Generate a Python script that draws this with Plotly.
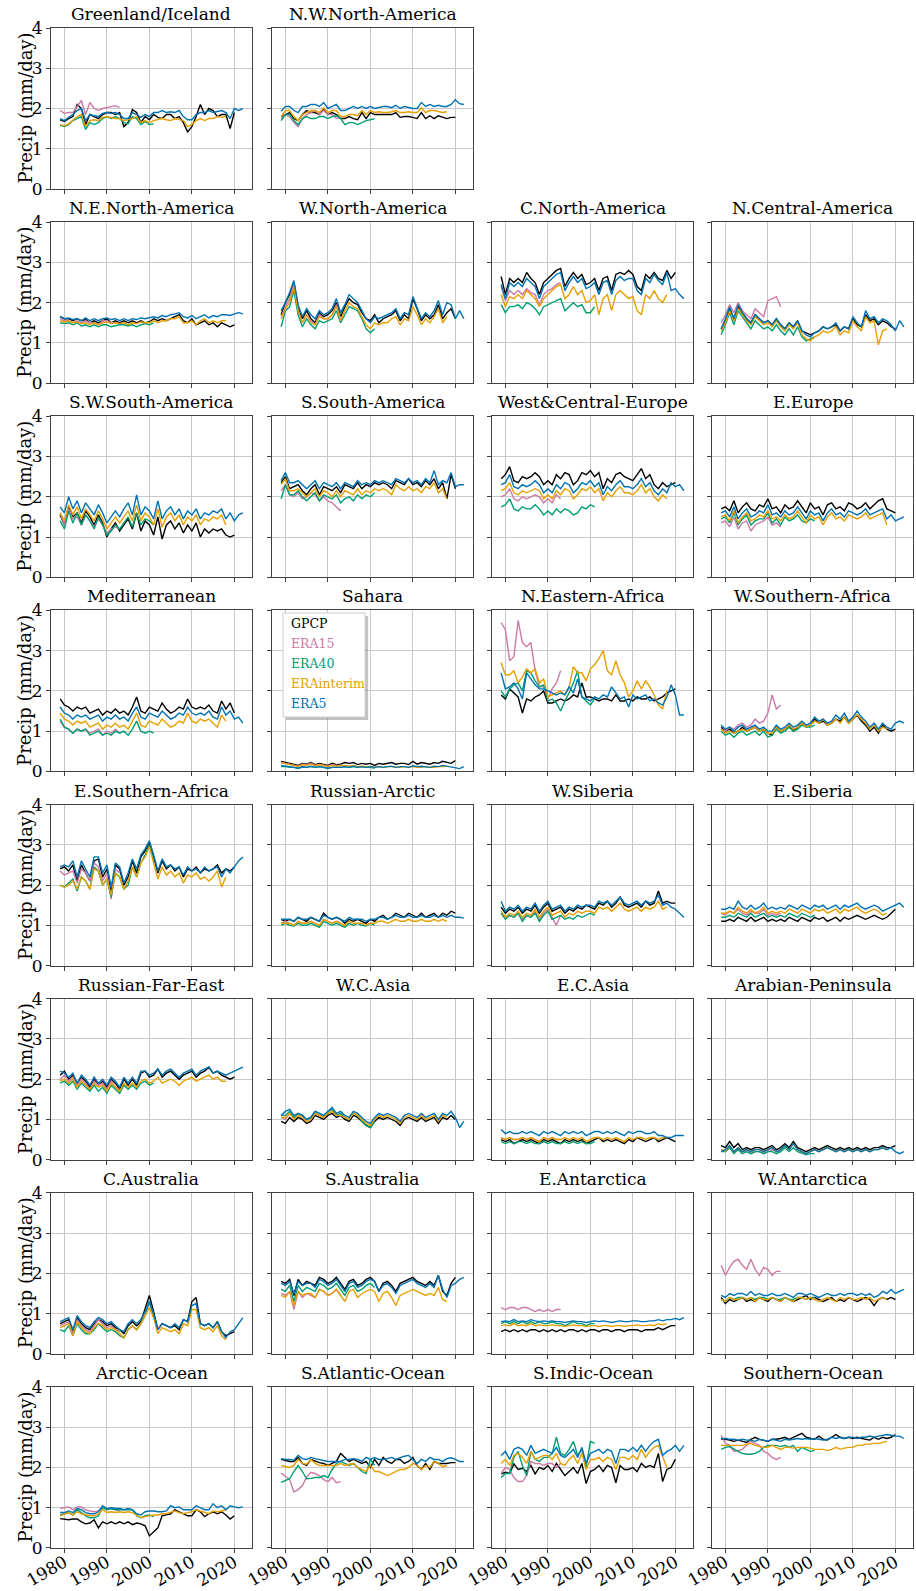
import plotly.graph_objects as go

# ---------------- data ----------------
YEARS_GPCP = list(range(1979, 2021))
YEARS_ERA15 = list(range(1979, 1994))
YEARS_ERA40 = list(range(1979, 2002))
YEARS_ERAI = list(range(1979, 2019))
YEARS_ERA5 = list(range(1979, 2023))

SERIES = ["GPCP", "ERA15", "ERA40", "ERAinterim", "ERA5"]
KEYS = ["gpcp", "era15", "era40", "erai", "era5"]
COLORS = ["#000000", "#CC79A7", "#009E73", "#E69F00", "#0072B2"]
YEARS = [YEARS_GPCP, YEARS_ERA15, YEARS_ERA40, YEARS_ERAI, YEARS_ERA5]

X_TICKS = [1980, 1990, 2000, 2010, 2020]
Y_TICKS = [0, 1, 2, 3, 4]

greenland_iceland = dict(
    gpcp=[1.72,1.68,1.75,1.80,2.10,2.00,1.60,1.85,1.80,1.75,1.85,1.90,1.90,1.85,1.90,1.55,1.65,1.97,1.90,1.65,1.80,1.72,1.85,1.78,1.75,1.85,1.85,1.75,1.80,1.65,1.42,1.55,1.80,2.10,1.85,2.00,1.95,1.80,1.85,1.85,1.50,1.90],
    era15=[1.95,1.88,1.90,1.90,2.05,2.20,1.85,2.15,2.00,1.95,2.00,2.02,2.05,2.07,2.03],
    era40=[1.58,1.55,1.60,1.70,1.75,1.80,1.48,1.65,1.60,1.65,1.75,1.80,1.75,1.80,1.75,1.65,1.62,1.80,1.75,1.60,1.68,1.60,1.62],
    erai=[1.60,1.57,1.62,1.70,1.80,1.85,1.55,1.70,1.72,1.70,1.78,1.80,1.78,1.75,1.75,1.70,1.72,1.75,1.80,1.65,1.70,1.65,1.70,1.72,1.75,1.72,1.70,1.75,1.72,1.70,1.55,1.60,1.70,1.75,1.70,1.75,1.75,1.80,1.78,1.80],
    era5=[1.75,1.70,1.78,1.85,1.95,2.00,1.70,1.85,1.82,1.80,1.88,1.90,1.88,1.90,1.85,1.75,1.75,1.90,1.85,1.78,1.85,1.80,1.90,1.90,1.95,1.90,1.92,1.90,1.95,1.80,1.72,1.72,1.85,1.90,1.90,1.95,1.90,1.92,1.95,1.90,1.75,2.00,1.95,2.00],
)
nw_north_america = dict(
    gpcp=[1.80,1.85,1.90,1.75,1.70,1.85,1.95,1.90,1.90,1.85,2.00,1.85,1.90,1.85,1.75,1.75,1.80,1.75,1.72,1.90,1.75,1.90,1.85,1.85,1.85,1.85,1.85,1.90,1.78,1.80,1.80,1.78,1.75,1.90,1.75,1.82,1.75,1.82,1.78,1.75,1.78,1.78],
    era15=[1.75,1.85,1.80,1.65,1.55,1.75,1.85,1.90,1.95,1.85,1.95,1.85,1.85,1.75,1.78],
    era40=[1.70,1.85,1.85,1.70,1.60,1.75,1.80,1.75,1.75,1.80,1.80,1.75,1.80,1.82,1.75,1.60,1.65,1.65,1.60,1.65,1.70,1.72,1.75],
    erai=[1.80,1.95,1.95,1.80,1.70,1.85,1.90,1.95,1.95,1.90,2.02,1.90,1.95,1.95,1.80,1.80,1.85,1.85,1.82,1.95,1.85,1.95,1.90,1.92,1.90,1.90,1.92,1.95,1.90,1.90,1.92,1.90,1.90,2.02,1.90,1.95,1.95,1.92,1.90,1.92],
    era5=[1.93,2.05,2.05,1.95,1.90,2.05,2.05,2.10,2.10,2.05,2.15,2.00,2.05,2.10,1.95,1.95,2.00,2.05,2.00,2.05,2.00,2.05,2.00,2.02,2.05,2.05,2.02,2.08,2.00,2.05,2.02,2.00,2.00,2.15,2.05,2.10,2.05,2.08,2.05,2.05,2.10,2.22,2.12,2.10],
)
ne_north_america = dict(
    gpcp=[1.65,1.60,1.60,1.55,1.60,1.55,1.58,1.50,1.55,1.50,1.55,1.60,1.50,1.55,1.50,1.55,1.50,1.55,1.50,1.55,1.50,1.52,1.60,1.55,1.60,1.55,1.60,1.65,1.70,1.55,1.50,1.60,1.45,1.50,1.55,1.45,1.50,1.40,1.50,1.45,1.40,1.45],
    era15=[1.60,1.55,1.55,1.50,1.55,1.50,1.55,1.50,1.50,1.45,1.55,1.55,1.50,1.50,1.48],
    era40=[1.50,1.48,1.50,1.45,1.50,1.42,1.45,1.40,1.45,1.40,1.45,1.45,1.40,1.42,1.45,1.45,1.42,1.45,1.40,1.45,1.48,1.45,1.50],
    erai=[1.55,1.52,1.55,1.50,1.52,1.48,1.50,1.45,1.50,1.45,1.50,1.52,1.48,1.50,1.48,1.50,1.45,1.50,1.48,1.52,1.50,1.50,1.55,1.50,1.55,1.55,1.60,1.60,1.65,1.50,1.50,1.55,1.45,1.55,1.60,1.50,1.55,1.50,1.55,1.55],
    era5=[1.65,1.60,1.62,1.58,1.60,1.55,1.62,1.55,1.60,1.55,1.60,1.62,1.58,1.60,1.55,1.60,1.55,1.60,1.58,1.62,1.60,1.62,1.65,1.62,1.68,1.65,1.70,1.72,1.75,1.65,1.62,1.68,1.60,1.65,1.70,1.62,1.68,1.65,1.70,1.70,1.68,1.72,1.75,1.72],
)
w_north_america = dict(
    gpcp=[1.70,2.00,2.20,2.50,1.90,1.60,1.80,1.60,1.50,1.75,1.65,1.70,1.80,2.00,1.65,1.90,2.10,2.00,1.95,1.75,1.60,1.55,1.70,1.50,1.60,1.65,1.70,1.80,1.55,1.70,1.60,2.10,1.85,1.55,1.70,1.60,1.70,1.95,1.60,1.75,1.85,1.60],
    era15=[1.65,1.90,2.10,2.45,1.80,1.50,1.70,1.55,1.45,1.70,1.60,1.60,1.70,1.95,1.60],
    era40=[1.40,1.80,1.90,2.30,1.70,1.40,1.60,1.45,1.35,1.55,1.50,1.55,1.60,1.80,1.50,1.70,1.90,1.85,1.80,1.60,1.35,1.25,1.35],
    erai=[1.60,1.85,2.00,2.40,1.80,1.50,1.70,1.50,1.45,1.65,1.60,1.60,1.70,1.90,1.55,1.80,2.00,1.90,1.85,1.65,1.45,1.35,1.50,1.45,1.50,1.50,1.60,1.65,1.45,1.60,1.55,1.90,1.70,1.45,1.60,1.50,1.65,1.85,1.50,1.65],
    era5=[1.80,2.00,2.25,2.55,1.95,1.65,1.85,1.70,1.60,1.80,1.70,1.75,1.85,2.10,1.75,1.95,2.20,2.10,2.00,1.80,1.60,1.50,1.65,1.60,1.65,1.70,1.75,1.85,1.60,1.75,1.70,2.15,1.85,1.60,1.75,1.65,1.80,2.05,1.70,2.00,1.95,1.60,1.80,1.60],
)
c_north_america = dict(
    gpcp=[2.65,2.20,2.60,2.50,2.60,2.50,2.75,2.60,2.50,2.20,2.50,2.60,2.70,2.80,2.85,2.40,2.60,2.75,2.60,2.70,2.45,2.50,2.60,2.30,2.60,2.65,2.30,2.70,2.75,2.70,2.80,2.70,2.40,2.30,2.70,2.60,2.75,2.60,2.55,2.80,2.60,2.75],
    era15=[2.40,2.05,2.30,2.20,2.30,2.20,2.35,2.25,2.20,1.95,2.20,2.30,2.35,2.45,2.50],
    era40=[1.95,1.75,1.90,1.90,1.95,1.85,2.00,1.95,1.85,1.70,1.90,1.95,2.00,2.05,2.10,1.80,1.90,2.00,1.90,1.95,1.75,1.75,1.90],
    erai=[2.20,1.90,2.15,2.10,2.20,2.10,2.30,2.20,2.10,1.90,2.10,2.20,2.30,2.40,2.45,2.10,2.20,2.40,2.20,2.30,2.00,2.05,2.20,1.70,2.10,2.20,1.80,2.20,2.30,2.20,2.10,2.15,1.80,1.70,2.20,2.10,2.30,2.10,2.00,2.20],
    era5=[2.45,2.10,2.50,2.40,2.50,2.40,2.60,2.50,2.40,2.10,2.40,2.50,2.60,2.70,2.75,2.30,2.50,2.65,2.50,2.60,2.35,2.40,2.50,2.20,2.50,2.55,2.20,2.55,2.65,2.55,2.60,2.60,2.30,2.20,2.60,2.50,2.70,2.55,2.45,2.75,2.30,2.35,2.20,2.10],
)
n_central_america = dict(
    gpcp=[1.35,1.55,1.85,1.60,1.90,1.75,1.60,1.50,1.70,1.60,1.50,1.55,1.45,1.60,1.45,1.35,1.50,1.40,1.55,1.30,1.25,1.20,1.25,1.30,1.40,1.35,1.40,1.45,1.30,1.40,1.35,1.60,1.45,1.40,1.70,1.55,1.60,1.45,1.55,1.50,1.40,1.35],
    era15=[1.50,1.70,1.95,1.75,2.00,1.80,1.70,1.60,1.85,1.75,1.65,2.05,2.10,2.15,1.90],
    era40=[1.20,1.45,1.75,1.45,1.80,1.65,1.50,1.35,1.55,1.45,1.35,1.40,1.30,1.45,1.30,1.20,1.35,1.20,1.40,1.15,1.05,1.10,1.15],
    erai=[1.30,1.50,1.80,1.55,1.85,1.70,1.55,1.45,1.65,1.55,1.45,1.50,1.40,1.55,1.40,1.30,1.45,1.35,1.50,1.20,1.10,1.05,1.15,1.20,1.30,1.25,1.30,1.40,1.20,1.30,1.25,1.55,1.40,1.30,1.65,1.50,1.55,0.95,1.30,1.35],
    era5=[1.35,1.60,1.90,1.60,1.95,1.75,1.60,1.50,1.70,1.60,1.50,1.55,1.45,1.60,1.45,1.35,1.50,1.40,1.55,1.30,1.20,1.15,1.25,1.30,1.40,1.35,1.40,1.50,1.30,1.40,1.35,1.65,1.50,1.40,1.80,1.60,1.65,1.50,1.60,1.55,1.45,1.30,1.55,1.40],
)
sw_south_america = dict(
    gpcp=[1.55,1.30,1.75,1.50,1.60,1.35,1.65,1.50,1.30,1.55,1.35,1.00,1.20,1.35,1.15,1.30,1.45,1.20,1.60,1.15,1.40,1.30,1.05,1.50,0.95,1.30,1.40,1.20,1.35,1.10,1.30,1.15,1.35,1.00,1.20,1.10,1.20,1.15,1.20,1.05,1.00,1.05],
    era15=[1.60,1.30,1.70,1.45,1.50,1.30,1.55,1.40,1.25,1.45,1.30,1.10,1.20,1.25,1.20],
    era40=[1.40,1.20,1.65,1.35,1.60,1.30,1.55,1.40,1.20,1.50,1.30,1.05,1.15,1.30,1.20,1.35,1.50,1.25,1.60,1.30,1.45,1.40,1.30],
    erai=[1.60,1.40,1.80,1.55,1.75,1.45,1.70,1.55,1.40,1.65,1.45,1.20,1.35,1.50,1.35,1.50,1.65,1.40,1.80,1.40,1.60,1.50,1.30,1.70,1.25,1.50,1.60,1.40,1.55,1.30,1.50,1.40,1.55,1.30,1.45,1.40,1.50,1.45,1.55,1.30],
    era5=[1.75,1.60,2.00,1.70,1.90,1.60,1.85,1.70,1.55,1.80,1.60,1.35,1.50,1.65,1.50,1.70,1.85,1.55,2.05,1.55,1.75,1.65,1.45,1.90,1.45,1.65,1.75,1.55,1.70,1.45,1.65,1.55,1.70,1.45,1.60,1.55,1.65,1.60,1.70,1.45,1.60,1.40,1.55,1.60],
)
s_south_america = dict(
    gpcp=[2.35,2.50,2.20,2.25,2.30,2.15,2.05,2.20,2.30,2.05,2.25,2.20,2.15,2.25,2.10,2.30,2.25,2.20,2.35,2.20,2.30,2.25,2.35,2.30,2.35,2.30,2.20,2.40,2.35,2.30,2.45,2.30,2.35,2.25,2.40,2.30,2.45,2.20,2.35,1.95,2.55,2.20],
    era15=[2.15,2.30,2.05,2.00,2.10,1.95,2.00,2.10,2.05,1.90,2.00,1.90,1.85,1.75,1.65],
    era40=[1.95,2.30,2.05,2.05,2.15,2.00,1.90,2.00,2.10,1.90,2.05,2.00,1.95,2.05,1.85,1.95,2.00,1.90,2.05,1.95,2.05,2.00,2.10],
    erai=[2.30,2.45,2.15,2.15,2.20,2.10,2.00,2.10,2.20,2.00,2.15,2.10,2.00,2.15,2.00,2.15,2.10,2.05,2.20,2.05,2.15,2.10,2.20,2.15,2.20,2.15,2.05,2.30,2.20,2.15,2.25,2.15,2.20,2.10,2.25,2.20,2.35,2.10,2.20,1.95],
    era5=[2.40,2.60,2.35,2.35,2.40,2.30,2.20,2.30,2.40,2.20,2.35,2.30,2.25,2.35,2.20,2.35,2.30,2.25,2.40,2.30,2.35,2.30,2.40,2.35,2.40,2.35,2.30,2.45,2.40,2.35,2.45,2.35,2.40,2.30,2.45,2.35,2.65,2.30,2.40,2.35,2.60,2.25,2.30,2.30],
)
west_central_europe = dict(
    gpcp=[2.45,2.55,2.75,2.40,2.35,2.50,2.45,2.50,2.60,2.50,2.30,2.40,2.30,2.55,2.45,2.60,2.55,2.30,2.40,2.60,2.55,2.65,2.50,2.60,2.20,2.45,2.35,2.55,2.60,2.50,2.45,2.40,2.55,2.70,2.45,2.55,2.30,2.20,2.35,2.25,2.30,2.35],
    era15=[2.00,2.05,2.20,1.95,1.90,2.00,1.95,2.00,2.05,2.00,1.85,1.95,1.85,2.05,1.95],
    era40=[1.75,1.80,1.95,1.70,1.65,1.75,1.70,1.70,1.80,1.70,1.55,1.65,1.55,1.70,1.60,1.70,1.65,1.55,1.60,1.75,1.70,1.80,1.75],
    erai=[2.15,2.20,2.35,2.10,2.05,2.15,2.10,2.15,2.20,2.15,1.95,2.05,1.95,2.15,2.05,2.20,2.15,1.95,2.05,2.20,2.15,2.25,2.10,2.20,1.90,2.10,2.00,2.15,2.25,2.10,2.10,2.05,2.15,2.30,2.10,2.20,2.00,1.90,2.05,1.95],
    era5=[2.30,2.35,2.55,2.25,2.20,2.30,2.25,2.30,2.40,2.30,2.10,2.20,2.10,2.30,2.20,2.35,2.30,2.10,2.20,2.35,2.30,2.40,2.25,2.35,2.05,2.25,2.15,2.30,2.40,2.25,2.25,2.20,2.30,2.45,2.25,2.35,2.15,2.05,2.20,2.10,2.35,2.25,2.30,2.15],
)
e_europe = dict(
    gpcp=[1.70,1.75,1.65,1.90,1.60,1.75,1.85,1.70,1.65,1.80,1.75,1.95,1.70,1.75,1.60,1.80,1.70,1.75,1.90,1.75,1.60,1.85,1.70,1.75,1.55,1.80,1.85,1.70,1.75,1.65,1.85,1.80,1.70,1.75,1.85,1.70,1.80,1.90,1.95,1.70,1.65,1.60],
    era15=[1.35,1.40,1.25,1.50,1.20,1.35,1.40,1.15,1.30,1.35,1.40,1.50,1.30,1.35,1.25],
    era40=[1.45,1.50,1.35,1.60,1.30,1.45,1.55,1.30,1.40,1.45,1.45,1.60,1.35,1.45,1.30,1.50,1.40,1.45,1.55,1.40,1.35,1.45,1.40],
    erai=[1.50,1.55,1.40,1.65,1.35,1.50,1.60,1.40,1.45,1.55,1.50,1.65,1.45,1.50,1.40,1.55,1.45,1.50,1.65,1.50,1.35,1.55,1.45,1.50,1.30,1.50,1.60,1.45,1.50,1.40,1.55,1.50,1.45,1.50,1.60,1.45,1.50,1.55,1.60,1.30],
    era5=[1.60,1.65,1.50,1.75,1.45,1.60,1.70,1.50,1.55,1.65,1.60,1.80,1.55,1.60,1.50,1.65,1.55,1.60,1.75,1.60,1.45,1.65,1.55,1.60,1.40,1.60,1.70,1.55,1.60,1.50,1.65,1.60,1.55,1.60,1.70,1.55,1.60,1.65,1.70,1.45,1.55,1.40,1.45,1.50],
)
mediterranean = dict(
    gpcp=[1.80,1.65,1.60,1.50,1.60,1.55,1.60,1.45,1.50,1.55,1.40,1.50,1.45,1.55,1.45,1.50,1.40,1.60,1.85,1.50,1.45,1.60,1.55,1.50,1.70,1.55,1.45,1.50,1.60,1.55,1.80,1.60,1.55,1.60,1.55,1.65,1.50,1.45,1.75,1.55,1.70,1.45],
    era15=[1.25,1.10,1.05,0.95,1.05,1.00,1.05,0.95,1.00,1.05,0.90,1.00,0.95,1.05,0.95],
    era40=[1.30,1.10,1.05,0.95,1.05,1.00,1.05,0.90,0.95,1.00,0.90,0.95,0.90,1.00,0.95,1.00,0.90,1.05,1.25,1.00,0.95,1.00,0.95],
    erai=[1.45,1.30,1.25,1.15,1.25,1.20,1.25,1.10,1.15,1.20,1.05,1.15,1.10,1.20,1.10,1.15,1.05,1.25,1.45,1.15,1.10,1.25,1.20,1.15,1.30,1.20,1.10,1.15,1.25,1.20,1.45,1.25,1.20,1.30,1.25,1.30,1.20,1.10,1.40,1.25],
    era5=[1.60,1.45,1.40,1.30,1.40,1.35,1.40,1.30,1.35,1.40,1.25,1.35,1.30,1.40,1.30,1.35,1.25,1.45,1.60,1.35,1.30,1.45,1.40,1.35,1.50,1.40,1.30,1.35,1.45,1.40,1.60,1.45,1.40,1.45,1.40,1.50,1.35,1.30,1.60,1.40,1.50,1.30,1.35,1.20],
)
sahara = dict(
    gpcp=[0.25,0.22,0.20,0.17,0.15,0.20,0.18,0.22,0.17,0.20,0.18,0.15,0.20,0.17,0.18,0.22,0.20,0.22,0.17,0.20,0.18,0.20,0.15,0.20,0.18,0.20,0.22,0.18,0.20,0.20,0.17,0.25,0.18,0.22,0.20,0.18,0.22,0.20,0.25,0.22,0.20,0.27],
    era15=[0.22,0.20,0.18,0.15,0.13,0.18,0.17,0.20,0.15,0.17,0.15,0.13,0.17,0.15,0.15],
    era40=[0.12,0.12,0.10,0.10,0.08,0.10,0.10,0.12,0.10,0.12,0.10,0.08,0.10,0.10,0.10,0.12,0.10,0.12,0.10,0.12,0.10,0.10,0.08],
    erai=[0.22,0.20,0.17,0.15,0.12,0.17,0.15,0.18,0.14,0.17,0.15,0.12,0.15,0.13,0.14,0.15,0.13,0.15,0.12,0.13,0.12,0.12,0.10,0.12,0.10,0.12,0.12,0.10,0.10,0.12,0.10,0.12,0.10,0.10,0.12,0.10,0.10,0.12,0.12,0.13],
    era5=[0.15,0.14,0.12,0.10,0.08,0.12,0.10,0.13,0.10,0.12,0.10,0.08,0.10,0.10,0.10,0.12,0.10,0.13,0.10,0.12,0.10,0.12,0.10,0.12,0.10,0.12,0.13,0.10,0.12,0.12,0.10,0.14,0.12,0.13,0.12,0.10,0.13,0.12,0.15,0.13,0.12,0.10,0.07,0.12],
)
ne_africa = dict(
    gpcp=[1.90,1.80,2.05,1.95,1.85,1.45,1.80,1.75,1.85,1.90,2.00,1.70,1.70,1.75,1.80,1.75,1.80,1.90,1.85,2.20,1.85,1.85,1.80,1.75,1.80,1.80,1.75,1.90,1.75,1.75,1.80,1.75,1.85,1.80,1.80,1.85,1.75,1.80,1.85,1.95,2.00,2.05],
    era15=[3.70,3.52,2.75,2.85,3.75,3.20,3.10,3.20,2.50,2.10,2.10,1.80,2.05,2.20,2.50],
    era40=[2.00,1.85,2.05,2.15,2.20,2.00,2.50,2.45,2.25,2.10,2.15,1.75,1.80,1.70,1.50,1.75,1.95,2.20,2.50,1.85,1.75,1.65,1.80],
    erai=[2.70,2.40,2.40,2.50,2.20,2.35,2.55,2.45,2.55,2.20,2.30,1.85,1.90,1.95,2.00,1.90,2.10,2.60,2.45,2.45,2.25,2.55,2.65,2.80,3.00,2.50,2.40,2.75,2.40,2.20,1.85,2.00,2.25,2.05,2.25,2.10,1.90,1.65,1.55,2.00],
    era5=[2.45,2.05,2.10,2.20,2.05,1.80,2.45,2.30,2.15,2.05,2.05,2.00,1.95,1.90,1.95,1.90,2.10,1.95,2.30,1.85,1.80,1.75,1.85,1.80,1.90,1.85,2.10,1.95,1.80,1.85,1.60,1.90,1.80,1.85,1.90,1.75,1.80,1.70,1.65,1.85,2.15,1.90,1.40,1.40],
)
w_southern_africa = dict(
    gpcp=[1.10,1.00,1.05,0.95,1.00,1.10,1.00,1.05,1.10,1.00,1.05,0.95,0.90,1.10,1.00,1.05,1.15,1.00,1.10,1.20,1.10,1.15,1.30,1.20,1.25,1.15,1.20,1.30,1.25,1.35,1.20,1.30,1.40,1.25,1.15,1.00,1.10,0.95,1.15,1.05,1.00,1.05],
    era15=[1.05,1.00,1.10,1.05,1.15,1.20,1.10,1.15,1.30,1.20,1.25,1.45,1.90,1.55,1.65],
    era40=[1.00,0.90,0.95,0.85,0.95,1.00,0.90,0.95,1.00,0.90,1.00,0.85,0.90,1.05,0.95,1.00,1.10,1.00,1.05,1.15,1.10,1.10,1.15],
    erai=[1.05,0.95,1.00,0.95,1.00,1.05,1.00,1.05,1.10,1.00,1.05,0.95,0.95,1.10,1.00,1.05,1.15,1.05,1.10,1.20,1.10,1.15,1.25,1.20,1.30,1.15,1.20,1.30,1.20,1.35,1.20,1.30,1.40,1.30,1.20,1.05,1.15,1.00,1.10,1.05],
    era5=[1.15,1.05,1.10,1.00,1.10,1.15,1.05,1.10,1.15,1.05,1.10,1.00,1.00,1.15,1.05,1.10,1.20,1.10,1.15,1.25,1.15,1.20,1.35,1.25,1.30,1.20,1.25,1.40,1.30,1.45,1.25,1.35,1.50,1.35,1.25,1.10,1.20,1.05,1.20,1.10,1.05,1.20,1.25,1.20],
)
e_southern_africa = dict(
    gpcp=[2.40,2.45,2.35,2.50,2.10,2.50,2.30,2.10,2.60,2.65,2.20,2.40,1.80,2.50,2.40,2.00,2.20,2.60,2.30,2.70,2.85,3.05,2.70,2.30,2.60,2.40,2.50,2.35,2.45,2.20,2.40,2.35,2.45,2.30,2.40,2.35,2.40,2.50,2.30,2.40,2.35,2.45],
    era15=[2.35,2.25,2.30,2.35,2.05,2.40,2.30,2.10,2.55,2.45,2.10,2.30,1.65,2.40,2.30],
    era40=[2.00,1.95,2.05,2.15,1.85,2.20,2.10,1.90,2.45,2.35,2.00,2.15,1.70,2.30,2.20,1.90,2.00,2.45,2.20,2.55,2.75,3.00,2.60],
    erai=[2.00,1.95,2.00,2.10,1.90,2.20,2.10,1.90,2.40,2.35,2.00,2.15,1.75,2.30,2.20,1.90,2.10,2.45,2.20,2.55,2.70,2.95,2.55,2.15,2.45,2.25,2.35,2.20,2.30,2.05,2.25,2.20,2.30,2.15,2.20,2.10,2.20,2.35,1.95,2.20],
    era5=[2.45,2.50,2.45,2.60,2.20,2.60,2.40,2.20,2.70,2.70,2.30,2.50,1.95,2.55,2.45,2.05,2.30,2.65,2.40,2.75,2.90,3.10,2.75,2.35,2.65,2.45,2.50,2.40,2.45,2.25,2.45,2.35,2.40,2.30,2.45,2.35,2.40,2.45,2.20,2.40,2.30,2.45,2.60,2.70],
)
russian_arctic = dict(
    gpcp=[1.15,1.10,1.15,1.10,1.20,1.15,1.10,1.20,1.15,1.10,1.30,1.20,1.15,1.20,1.15,1.05,1.15,1.10,1.15,1.10,1.05,1.15,1.10,1.20,1.25,1.15,1.20,1.30,1.25,1.20,1.30,1.25,1.20,1.30,1.20,1.25,1.30,1.20,1.30,1.25,1.35,1.30],
    era15=[1.05,1.10,1.05,1.00,1.10,1.05,1.05,1.10,1.05,1.00,1.15,1.10,1.05,1.10,1.05],
    era40=[1.00,1.05,1.00,0.98,1.05,1.00,1.00,1.05,1.00,0.95,1.10,1.05,1.00,1.05,1.00,0.95,1.05,1.00,1.05,1.00,0.98,1.05,1.00],
    erai=[1.05,1.05,1.05,1.00,1.10,1.05,1.05,1.10,1.05,1.00,1.15,1.10,1.05,1.10,1.05,1.00,1.10,1.05,1.05,1.05,1.00,1.05,1.05,1.10,1.10,1.05,1.10,1.15,1.10,1.10,1.15,1.10,1.10,1.15,1.10,1.10,1.15,1.10,1.15,1.10],
    era5=[1.15,1.15,1.15,1.10,1.20,1.15,1.15,1.20,1.15,1.10,1.25,1.20,1.15,1.20,1.15,1.10,1.20,1.15,1.15,1.15,1.10,1.15,1.15,1.20,1.20,1.15,1.20,1.25,1.20,1.20,1.25,1.20,1.20,1.25,1.20,1.20,1.25,1.20,1.25,1.20,1.25,1.20,1.20,1.18],
)
w_siberia = dict(
    gpcp=[1.45,1.30,1.40,1.35,1.45,1.30,1.40,1.35,1.50,1.30,1.45,1.55,1.35,1.40,1.45,1.30,1.40,1.35,1.45,1.40,1.50,1.45,1.40,1.55,1.50,1.60,1.45,1.55,1.70,1.50,1.45,1.50,1.55,1.45,1.60,1.50,1.55,1.85,1.55,1.60,1.55,1.55],
    era15=[1.30,1.20,1.25,1.20,1.30,1.15,1.25,1.20,1.35,1.15,1.30,1.40,1.20,1.00,1.25],
    era40=[1.30,1.15,1.25,1.20,1.30,1.10,1.25,1.20,1.30,1.10,1.25,1.35,1.15,1.20,1.25,1.15,1.20,1.15,1.25,1.20,1.25,1.30,1.25],
    erai=[1.35,1.20,1.30,1.25,1.35,1.20,1.30,1.25,1.40,1.20,1.35,1.45,1.25,1.30,1.35,1.20,1.30,1.25,1.35,1.30,1.35,1.35,1.30,1.45,1.40,1.45,1.35,1.45,1.55,1.40,1.35,1.40,1.45,1.35,1.45,1.40,1.45,1.60,1.40,1.45],
    era5=[1.60,1.35,1.45,1.40,1.50,1.35,1.45,1.40,1.55,1.35,1.50,1.60,1.40,1.45,1.50,1.35,1.45,1.40,1.50,1.45,1.50,1.50,1.45,1.60,1.55,1.60,1.50,1.60,1.70,1.55,1.50,1.55,1.60,1.50,1.60,1.55,1.60,1.75,1.50,1.55,1.45,1.40,1.30,1.20],
)
e_siberia = dict(
    gpcp=[1.10,1.10,1.15,1.10,1.20,1.15,1.10,1.20,1.10,1.15,1.20,1.10,1.15,1.10,1.15,1.10,1.20,1.15,1.10,1.20,1.15,1.10,1.20,1.15,1.20,1.10,1.15,1.20,1.10,1.20,1.15,1.20,1.25,1.20,1.15,1.20,1.25,1.20,1.15,1.20,1.30,1.40],
    era15=[1.30,1.25,1.35,1.30,1.40,1.30,1.25,1.35,1.30,1.30,1.40,1.25,1.30,1.25,1.30],
    era40=[1.20,1.20,1.25,1.20,1.30,1.25,1.20,1.30,1.20,1.25,1.30,1.20,1.25,1.20,1.25,1.20,1.30,1.25,1.20,1.30,1.25,1.20,1.25],
    erai=[1.30,1.30,1.35,1.30,1.45,1.35,1.30,1.40,1.30,1.35,1.45,1.30,1.35,1.30,1.35,1.30,1.40,1.35,1.30,1.40,1.35,1.30,1.40,1.35,1.40,1.30,1.35,1.40,1.30,1.40,1.35,1.40,1.45,1.35,1.30,1.35,1.40,1.35,1.25,1.30],
    era5=[1.40,1.40,1.45,1.40,1.60,1.45,1.40,1.50,1.40,1.45,1.55,1.40,1.45,1.40,1.45,1.40,1.50,1.45,1.40,1.50,1.45,1.40,1.50,1.45,1.50,1.40,1.45,1.50,1.40,1.50,1.45,1.50,1.55,1.45,1.40,1.45,1.50,1.45,1.35,1.40,1.45,1.50,1.55,1.45],
)
russian_far_east = dict(
    gpcp=[2.10,2.20,2.00,2.10,1.90,2.05,1.95,1.80,2.00,1.85,1.95,1.80,2.00,1.90,1.75,2.00,1.85,2.00,1.85,2.15,2.20,2.05,2.10,2.25,2.05,2.15,2.20,2.10,2.00,2.10,2.15,2.20,2.05,2.15,2.20,2.30,2.15,2.20,2.10,2.05,2.00,2.05],
    era15=[2.00,2.10,1.95,2.05,1.85,2.00,1.90,1.75,1.95,1.85,1.90,1.75,1.95,1.80,1.75],
    era40=[1.90,1.95,1.85,1.95,1.75,1.90,1.80,1.70,1.85,1.70,1.80,1.65,1.85,1.75,1.65,1.85,1.75,1.85,1.75,1.90,1.95,1.85,1.90],
    erai=[1.95,2.00,1.90,2.00,1.80,1.95,1.85,1.75,1.90,1.80,1.85,1.70,1.90,1.80,1.70,1.90,1.80,1.90,1.80,1.95,2.00,1.90,1.95,2.05,1.90,1.95,2.00,1.95,1.85,1.95,2.00,2.05,1.95,2.00,2.05,2.10,2.00,2.05,1.95,1.95],
    era5=[2.20,2.15,2.05,2.15,1.90,2.10,2.00,1.85,2.05,1.90,2.00,1.85,2.05,1.95,1.80,2.05,1.90,2.05,1.90,2.20,2.20,2.10,2.15,2.25,2.10,2.20,2.25,2.15,2.05,2.15,2.20,2.25,2.10,2.20,2.25,2.30,2.15,2.20,2.15,2.10,2.15,2.20,2.25,2.30],
)
wc_asia = dict(
    gpcp=[0.95,0.90,1.05,0.95,1.05,1.00,0.90,0.95,1.10,1.05,1.00,1.10,1.15,1.05,1.10,1.00,0.95,1.10,1.05,0.95,0.85,0.80,0.95,1.05,1.00,1.05,1.00,0.95,0.85,1.00,1.05,1.00,0.95,1.05,0.95,1.00,1.05,0.90,1.05,1.00,1.10,1.00],
    era15=[1.05,1.00,1.15,1.05,1.15,1.10,1.00,1.05,1.15,1.10,1.05,1.15,1.20,1.10,1.15],
    era40=[1.10,1.10,1.20,1.05,1.15,1.10,1.00,1.05,1.20,1.15,1.10,1.20,1.25,1.10,1.15,1.05,1.00,1.15,1.10,0.95,0.85,0.80,0.95],
    erai=[1.05,1.05,1.15,1.00,1.10,1.05,0.95,1.00,1.15,1.10,1.05,1.15,1.20,1.10,1.10,1.05,1.00,1.15,1.10,1.00,0.90,0.85,1.00,1.10,1.05,1.10,1.05,1.00,0.90,1.05,1.10,1.05,1.00,1.10,1.00,1.05,1.10,0.95,1.10,1.05],
    era5=[1.10,1.20,1.25,1.10,1.15,1.10,1.00,1.05,1.20,1.15,1.10,1.20,1.30,1.15,1.20,1.10,1.05,1.20,1.15,1.05,0.95,0.90,1.05,1.15,1.10,1.15,1.10,1.05,0.95,1.10,1.15,1.10,1.05,1.15,1.05,1.10,1.15,1.00,1.15,1.10,1.20,1.05,0.80,0.95],
)
ec_asia = dict(
    gpcp=[0.50,0.45,0.50,0.40,0.45,0.50,0.45,0.50,0.45,0.40,0.50,0.45,0.50,0.45,0.40,0.50,0.45,0.50,0.45,0.50,0.40,0.45,0.50,0.55,0.45,0.50,0.45,0.50,0.45,0.40,0.50,0.45,0.55,0.50,0.45,0.50,0.55,0.45,0.50,0.55,0.50,0.45],
    era15=[0.55,0.50,0.55,0.50,0.50,0.55,0.50,0.55,0.50,0.45,0.55,0.50,0.55,0.50,0.50],
    era40=[0.45,0.40,0.45,0.40,0.45,0.45,0.40,0.45,0.40,0.40,0.45,0.40,0.45,0.40,0.40,0.45,0.40,0.45,0.40,0.45,0.40,0.40,0.45],
    erai=[0.55,0.50,0.55,0.50,0.50,0.55,0.50,0.55,0.50,0.45,0.55,0.50,0.55,0.50,0.50,0.55,0.50,0.55,0.50,0.55,0.45,0.50,0.55,0.55,0.50,0.55,0.50,0.55,0.50,0.45,0.55,0.50,0.55,0.55,0.50,0.55,0.55,0.50,0.55,0.55],
    era5=[0.75,0.65,0.70,0.65,0.65,0.70,0.65,0.70,0.65,0.60,0.70,0.65,0.70,0.65,0.60,0.70,0.65,0.70,0.65,0.70,0.60,0.65,0.70,0.70,0.65,0.70,0.65,0.70,0.65,0.60,0.70,0.65,0.70,0.70,0.65,0.65,0.70,0.60,0.60,0.55,0.55,0.60,0.60,0.60],
)
arabian_peninsula = dict(
    gpcp=[0.35,0.30,0.45,0.30,0.40,0.25,0.30,0.25,0.30,0.30,0.25,0.30,0.35,0.25,0.30,0.40,0.30,0.45,0.30,0.25,0.20,0.25,0.30,0.25,0.30,0.35,0.30,0.25,0.30,0.25,0.30,0.25,0.30,0.25,0.30,0.25,0.30,0.30,0.35,0.30,0.30,0.35],
    era15=[0.25,0.20,0.30,0.20,0.25,0.20,0.20,0.15,0.20,0.20,0.15,0.20,0.25,0.20,0.20],
    era40=[0.20,0.20,0.30,0.15,0.25,0.15,0.20,0.15,0.20,0.20,0.15,0.20,0.20,0.15,0.20,0.30,0.20,0.30,0.20,0.15,0.12,0.15,0.15],
    erai=[0.25,0.22,0.35,0.20,0.30,0.20,0.25,0.20,0.25,0.25,0.20,0.25,0.30,0.20,0.25,0.35,0.25,0.40,0.25,0.20,0.15,0.20,0.25,0.20,0.25,0.30,0.25,0.20,0.25,0.20,0.25,0.20,0.25,0.20,0.25,0.20,0.25,0.25,0.30,0.25],
    era5=[0.20,0.25,0.35,0.20,0.30,0.20,0.25,0.20,0.25,0.25,0.20,0.25,0.30,0.20,0.25,0.35,0.25,0.40,0.25,0.20,0.15,0.20,0.25,0.20,0.25,0.30,0.25,0.20,0.25,0.20,0.25,0.20,0.25,0.20,0.25,0.20,0.25,0.25,0.30,0.25,0.30,0.20,0.15,0.20],
)
c_australia = dict(
    gpcp=[0.75,0.80,0.85,0.55,0.90,0.75,0.65,0.60,0.75,0.85,0.80,0.70,0.75,0.65,0.60,0.50,0.70,0.80,0.70,0.80,1.10,1.45,1.05,0.60,0.75,0.70,0.65,0.70,0.60,0.85,0.80,1.30,1.40,0.75,0.70,0.75,0.65,0.80,0.55,0.45,0.50,0.55],
    era15=[0.70,0.75,0.80,0.50,0.85,0.70,0.60,0.55,0.70,0.85,0.75,0.65,0.70,0.60,0.55],
    era40=[0.60,0.55,0.70,0.45,0.75,0.60,0.50,0.50,0.60,0.75,0.65,0.55,0.60,0.55,0.45,0.40,0.60,0.70,0.60,0.75,0.95,1.30,0.90],
    erai=[0.65,0.70,0.75,0.45,0.80,0.65,0.55,0.50,0.65,0.75,0.70,0.60,0.65,0.60,0.50,0.40,0.60,0.70,0.60,0.75,0.95,1.15,0.90,0.50,0.65,0.60,0.55,0.60,0.50,0.75,0.70,1.10,1.10,0.65,0.60,0.65,0.55,0.70,0.45,0.35],
    era5=[0.80,0.85,0.90,0.60,0.95,0.80,0.70,0.65,0.80,0.90,0.85,0.75,0.80,0.70,0.60,0.55,0.75,0.85,0.75,0.85,1.05,1.30,1.00,0.60,0.75,0.70,0.65,0.75,0.65,0.85,0.80,1.20,1.25,0.75,0.70,0.75,0.65,0.80,0.55,0.40,0.55,0.60,0.75,0.90],
)
s_australia = dict(
    gpcp=[1.80,1.75,1.85,1.45,1.85,1.70,1.80,1.75,1.70,1.90,1.85,1.75,1.80,1.90,1.75,1.60,1.80,1.85,1.70,1.75,1.85,1.90,1.80,1.55,1.75,1.80,1.70,1.55,1.75,1.80,1.85,1.90,1.80,1.75,1.70,1.80,1.70,1.95,1.55,1.45,1.75,1.90],
    era15=[1.50,1.45,1.55,1.10,1.55,1.40,1.50,1.45,1.40,1.60,1.55,1.45,1.50,1.60,1.45],
    era40=[1.60,1.55,1.70,1.30,1.70,1.55,1.65,1.60,1.55,1.75,1.70,1.60,1.65,1.75,1.60,1.45,1.65,1.70,1.55,1.60,1.70,1.75,1.65],
    erai=[1.45,1.40,1.55,1.20,1.55,1.45,1.50,1.50,1.40,1.60,1.55,1.45,1.50,1.60,1.45,1.30,1.55,1.60,1.40,1.50,1.55,1.60,1.55,1.30,1.50,1.55,1.40,1.20,1.45,1.50,1.55,1.60,1.55,1.50,1.45,1.50,1.45,1.65,1.35,1.30],
    era5=[1.75,1.70,1.80,1.50,1.80,1.70,1.75,1.75,1.65,1.85,1.80,1.70,1.75,1.85,1.70,1.55,1.75,1.80,1.65,1.70,1.80,1.85,1.80,1.55,1.70,1.75,1.65,1.50,1.70,1.75,1.80,1.85,1.75,1.70,1.65,1.75,1.65,1.95,1.60,1.40,1.70,1.75,1.85,1.90],
)
e_antarctica = dict(
    gpcp=[0.55,0.60,0.55,0.60,0.55,0.60,0.55,0.60,0.60,0.55,0.60,0.55,0.60,0.55,0.60,0.55,0.60,0.60,0.55,0.60,0.55,0.60,0.60,0.55,0.60,0.60,0.55,0.60,0.60,0.55,0.60,0.60,0.60,0.55,0.60,0.60,0.60,0.65,0.60,0.65,0.70,0.70],
    era15=[1.15,1.10,1.15,1.15,1.10,1.15,1.15,1.10,1.05,1.10,1.05,1.10,1.05,1.10,1.10],
    era40=[0.75,0.80,0.75,0.80,0.75,0.80,0.75,0.80,0.75,0.80,0.75,0.75,0.80,0.75,0.75,0.70,0.75,0.80,0.75,0.75,0.70,0.75,0.75],
    erai=[0.70,0.72,0.70,0.75,0.70,0.72,0.70,0.75,0.70,0.72,0.70,0.70,0.72,0.70,0.70,0.68,0.70,0.72,0.70,0.70,0.68,0.70,0.70,0.68,0.70,0.70,0.68,0.70,0.70,0.68,0.70,0.70,0.72,0.70,0.70,0.72,0.70,0.75,0.72,0.75],
    era5=[0.80,0.82,0.80,0.85,0.80,0.82,0.80,0.85,0.82,0.80,0.82,0.80,0.82,0.80,0.80,0.78,0.80,0.82,0.80,0.80,0.78,0.80,0.82,0.80,0.82,0.80,0.78,0.80,0.82,0.80,0.80,0.82,0.82,0.80,0.80,0.82,0.82,0.85,0.82,0.85,0.85,0.88,0.85,0.90],
)
w_antarctica = dict(
    gpcp=[1.40,1.25,1.35,1.30,1.35,1.40,1.30,1.35,1.30,1.40,1.35,1.30,1.40,1.35,1.30,1.40,1.35,1.30,1.35,1.40,1.45,1.35,1.40,1.35,1.30,1.35,1.40,1.30,1.35,1.30,1.40,1.35,1.30,1.35,1.40,1.35,1.20,1.35,1.40,1.35,1.40,1.35],
    era15=[2.20,1.95,2.15,2.30,2.35,2.20,2.10,2.35,2.10,1.95,2.15,2.10,1.95,2.05,2.05],
    era40=[1.35,1.30,1.40,1.35,1.40,1.40,1.35,1.40,1.35,1.40,1.40,1.35,1.40,1.35,1.35,1.40,1.35,1.35,1.40,1.40,1.35,1.40,1.40],
    erai=[1.35,1.30,1.40,1.35,1.35,1.40,1.35,1.40,1.30,1.40,1.35,1.35,1.40,1.35,1.30,1.40,1.35,1.30,1.40,1.40,1.35,1.40,1.35,1.30,1.35,1.40,1.35,1.30,1.40,1.35,1.40,1.35,1.35,1.40,1.35,1.40,1.30,1.35,1.40,1.35],
    era5=[1.45,1.40,1.50,1.45,1.50,1.50,1.45,1.55,1.45,1.50,1.45,1.45,1.50,1.45,1.45,1.50,1.45,1.40,1.50,1.50,1.45,1.50,1.45,1.40,1.45,1.50,1.45,1.45,1.50,1.45,1.50,1.50,1.45,1.50,1.45,1.50,1.40,1.45,1.55,1.50,1.60,1.50,1.55,1.60],
)
arctic_ocean = dict(
    gpcp=[0.73,0.72,0.70,0.72,0.72,0.65,0.60,0.62,0.70,0.50,0.65,0.60,0.65,0.60,0.65,0.60,0.65,0.58,0.62,0.60,0.55,0.30,0.40,0.50,0.80,0.82,0.85,0.95,0.90,0.85,0.80,0.80,0.95,0.90,0.78,0.85,0.90,0.85,0.90,0.82,0.72,0.80],
    era15=[0.98,1.00,1.02,0.95,1.02,1.02,0.95,0.92,0.90,0.92,1.00,0.95,0.98,0.95,0.93],
    era40=[0.82,0.85,0.88,0.82,0.95,0.88,0.80,0.75,0.75,0.80,1.00,0.95,0.98,0.95,0.95,0.95,0.95,0.95,0.80,0.75,0.80,0.82,0.78],
    erai=[0.80,0.85,0.88,0.82,0.90,0.85,0.82,0.80,0.80,0.85,0.95,0.88,0.90,0.88,0.90,0.88,0.90,0.88,0.82,0.75,0.78,0.80,0.82,0.82,0.85,0.85,0.88,0.92,0.88,0.85,0.88,0.90,0.95,0.92,0.88,0.85,0.92,0.90,0.92,0.95],
    era5=[0.88,0.88,0.92,0.88,0.98,0.95,0.88,0.85,0.85,0.90,1.05,0.98,1.00,0.98,0.98,0.95,0.98,0.95,0.85,0.82,0.90,0.92,0.92,0.90,0.90,0.92,1.05,1.00,1.02,0.95,0.95,0.95,1.05,1.00,0.95,0.95,1.10,1.00,1.05,0.95,1.05,1.02,1.00,1.02],
)
s_atlantic_ocean = dict(
    gpcp=[2.20,2.18,2.15,2.15,2.25,2.10,2.05,2.20,2.15,2.12,2.10,2.05,2.10,2.15,2.35,2.25,2.15,2.20,2.15,2.10,2.15,2.00,2.20,2.05,2.25,2.15,2.10,2.20,2.20,2.10,2.15,2.25,2.05,1.95,2.10,1.95,2.15,2.10,2.10,2.10,2.12,2.12],
    era15=[1.86,1.78,1.70,1.39,1.45,1.55,1.76,1.88,1.85,1.80,1.70,1.65,1.75,1.62,1.65],
    era40=[1.63,1.67,1.72,1.90,2.05,1.90,1.72,1.73,1.75,1.75,1.80,1.75,1.95,2.10,2.15,2.10,2.05,2.10,2.00,1.90,1.85,2.20,2.05],
    erai=[2.05,2.02,2.00,2.05,2.20,2.10,2.08,2.20,2.10,2.05,2.05,2.05,2.05,2.05,2.10,2.05,2.08,2.10,2.00,1.95,1.90,2.05,1.90,1.90,1.85,1.80,1.85,1.90,1.95,1.95,2.00,2.10,2.05,1.95,2.05,2.00,2.15,2.10,2.02,2.05],
    era5=[2.22,2.20,2.20,2.18,2.30,2.22,2.20,2.25,2.22,2.20,2.18,2.15,2.15,2.15,2.15,2.20,2.20,2.22,2.20,2.15,2.25,2.20,2.25,2.20,2.20,2.22,2.25,2.20,2.25,2.28,2.30,2.20,2.10,2.20,2.15,2.25,2.20,2.20,2.15,2.22,2.24,2.20,2.15,2.15],
)
s_indic_ocean = dict(
    gpcp=[1.84,1.88,1.85,2.09,1.95,1.98,1.90,2.05,1.84,2.00,1.95,2.05,1.90,2.10,1.95,1.80,1.90,2.00,1.85,2.10,1.60,1.90,1.95,2.05,1.90,2.05,2.00,1.62,2.05,1.95,1.95,2.00,1.90,2.10,2.00,2.05,2.00,2.35,1.65,1.95,2.00,2.20],
    era15=[1.85,2.00,1.95,1.75,1.65,1.65,1.80,2.15,2.10,2.10,2.05,2.10,2.10,2.00,2.10],
    era40=[1.75,1.85,1.85,2.25,2.40,2.05,1.80,2.40,2.20,2.15,2.25,2.25,2.35,2.75,2.35,2.30,2.45,2.65,2.30,2.45,2.00,2.65,2.60],
    erai=[2.10,2.20,2.05,2.30,2.35,2.25,2.10,2.40,2.20,2.25,2.30,2.30,2.20,2.35,2.10,2.05,2.20,2.30,2.10,2.35,1.95,2.20,2.20,2.25,2.15,2.25,2.20,1.95,2.25,2.25,2.20,2.30,2.20,2.45,2.25,2.40,2.50,2.55,2.25,2.00],
    era5=[2.30,2.40,2.20,2.45,2.50,2.45,2.30,2.55,2.35,2.40,2.45,2.40,2.35,2.50,2.30,2.25,2.35,2.45,2.25,2.50,2.10,2.35,2.40,2.45,2.35,2.45,2.40,2.10,2.45,2.45,2.40,2.50,2.40,2.55,2.40,2.55,2.65,2.70,2.30,2.40,2.45,2.55,2.40,2.55],
)
southern_ocean = dict(
    gpcp=[2.70,2.70,2.68,2.65,2.68,2.65,2.62,2.70,2.75,2.70,2.68,2.65,2.70,2.70,2.72,2.75,2.70,2.75,2.78,2.85,2.75,2.72,2.70,2.78,2.70,2.68,2.75,2.82,2.75,2.72,2.75,2.72,2.75,2.72,2.70,2.68,2.75,2.70,2.75,2.72,2.75,2.82],
    era15=[2.80,2.60,2.55,2.40,2.42,2.45,2.55,2.65,2.60,2.55,2.40,2.35,2.25,2.20,2.25],
    era40=[2.45,2.50,2.52,2.45,2.40,2.35,2.33,2.33,2.35,2.40,2.50,2.55,2.55,2.55,2.52,2.55,2.50,2.55,2.40,2.50,2.45,2.40,2.42],
    erai=[2.55,2.55,2.55,2.55,2.55,2.55,2.58,2.60,2.55,2.52,2.50,2.50,2.55,2.50,2.45,2.50,2.50,2.48,2.50,2.50,2.50,2.48,2.45,2.45,2.45,2.42,2.45,2.50,2.45,2.48,2.50,2.50,2.55,2.55,2.58,2.58,2.60,2.60,2.62,2.65],
    era5=[2.72,2.72,2.70,2.70,2.68,2.70,2.68,2.68,2.65,2.70,2.68,2.65,2.70,2.68,2.65,2.70,2.68,2.70,2.72,2.70,2.72,2.70,2.72,2.70,2.68,2.70,2.75,2.72,2.75,2.72,2.75,2.75,2.72,2.75,2.75,2.78,2.75,2.78,2.80,2.82,2.80,2.78,2.78,2.72],
)

# panel title, data, (row, col)
PANELS = [
    ("Greenland/Iceland", greenland_iceland, (0, 0)),
    ("N.W.North-America", nw_north_america, (0, 1)),
    ("N.E.North-America", ne_north_america, (1, 0)),
    ("W.North-America", w_north_america, (1, 1)),
    ("C.North-America", c_north_america, (1, 2)),
    ("N.Central-America", n_central_america, (1, 3)),
    ("S.W.South-America", sw_south_america, (2, 0)),
    ("S.South-America", s_south_america, (2, 1)),
    ("West&Central-Europe", west_central_europe, (2, 2)),
    ("E.Europe", e_europe, (2, 3)),
    ("Mediterranean", mediterranean, (3, 0)),
    ("Sahara", sahara, (3, 1)),
    ("N.Eastern-Africa", ne_africa, (3, 2)),
    ("W.Southern-Africa", w_southern_africa, (3, 3)),
    ("E.Southern-Africa", e_southern_africa, (4, 0)),
    ("Russian-Arctic", russian_arctic, (4, 1)),
    ("W.Siberia", w_siberia, (4, 2)),
    ("E.Siberia", e_siberia, (4, 3)),
    ("Russian-Far-East", russian_far_east, (5, 0)),
    ("W.C.Asia", wc_asia, (5, 1)),
    ("E.C.Asia", ec_asia, (5, 2)),
    ("Arabian-Peninsula", arabian_peninsula, (5, 3)),
    ("C.Australia", c_australia, (6, 0)),
    ("S.Australia", s_australia, (6, 1)),
    ("E.Antarctica", e_antarctica, (6, 2)),
    ("W.Antarctica", w_antarctica, (6, 3)),
    ("Arctic-Ocean", arctic_ocean, (7, 0)),
    ("S.Atlantic-Ocean", s_atlantic_ocean, (7, 1)),
    ("S.Indic-Ocean", s_indic_ocean, (7, 2)),
    ("Southern-Ocean", southern_ocean, (7, 3)),
]

# ---------------- layout geometry (pixels) ----------------
W, H = 916, 1591
COL_LEFT = [51, 272, 492, 712]
PANEL_W = 201
ROW_TOP0, ROW_STEP, PANEL_H = 28, 194.14, 161
FONT = "DejaVu Serif"

fig = go.Figure()
layout = dict(
    width=W, height=H, margin=dict(l=0, r=0, t=0, b=0, pad=0, autoexpand=False),
    paper_bgcolor="white", plot_bgcolor="white", showlegend=False,
    font=dict(family=FONT, color="#000000", size=17),
)
annotations = []
shapes = []

for i, (title, data, (r, c)) in enumerate(PANELS):
    k = i + 1
    xs = "x" if k == 1 else f"x{k}"
    ys = "y" if k == 1 else f"y{k}"
    xa = "xaxis" if k == 1 else f"xaxis{k}"
    ya = "yaxis" if k == 1 else f"yaxis{k}"
    left = COL_LEFT[c]
    top = ROW_TOP0 + ROW_STEP * r
    x0, x1 = left / W, (left + PANEL_W) / W
    y1, y0 = 1 - top / H, 1 - (top + PANEL_H) / H

    for key, name, color, yrs in zip(KEYS, SERIES, COLORS, YEARS):
        vals = data[key]
        fig.add_trace(go.Scatter(
            x=yrs[:len(vals)], y=vals, xaxis=xs, yaxis=ys, mode="lines",
            name=name, line=dict(color=color, width=1.4),
            hovertemplate=f"{name} %{{x}}: %{{y:.2f}}<extra>{title}</extra>",
        ))

    common = dict(
        showline=True, mirror=True, linecolor="#404040", linewidth=1,
        showgrid=True, gridcolor="#c8c8c8", gridwidth=1, zeroline=False,
        ticks="outside", ticklen=4, tickwidth=1, tickcolor="#404040",
        tickfont=dict(family=FONT, size=17, color="#000000"),
        automargin=False,
    )
    layout[xa] = dict(
        domain=[x0, x1], anchor=ys, range=[1976.85, 2024.15],
        tickmode="array", tickvals=X_TICKS, ticktext=[str(t) for t in X_TICKS],
        showticklabels=(r == 7), tickangle=-30, ticklabelstandoff=-7, **common,
    )
    layout[ya] = dict(
        domain=[y0, y1], anchor=xs, range=[0, 4],
        tickmode="array", tickvals=Y_TICKS, ticktext=[str(t) for t in Y_TICKS],
        showticklabels=(c == 0), **common,
    )
    annotations.append(dict(
        text=title, x=(x0 + x1) / 2, y=1 - (top - 2) / H, xref="paper", yref="paper",
        xanchor="center", yanchor="bottom", showarrow=False,
        font=dict(family=FONT, size=17, color="#000000"),
    ))
    if c == 0:
        annotations.append(dict(
            text="Precip (mm/day)", x=25 / W, y=1 - (top + PANEL_H / 2) / H,
            xref="paper", yref="paper", xanchor="center", yanchor="middle",
            textangle=-90, showarrow=False,
            font=dict(family=FONT, size=18, color="#000000"),
        ))

# legend drawn inside the Sahara panel
leg_idx = [p[0] for p in PANELS].index("Sahara") + 1
lx, ly = f"x{leg_idx} domain", f"y{leg_idx} domain"
shapes.append(dict(type="rect", xref=lx, yref=ly, x0=0.070, x1=0.478, y0=0.320, y1=0.966,
                   line=dict(width=0), fillcolor="rgba(120,120,120,0.45)", layer="above"))
shapes.append(dict(type="rect", xref=lx, yref=ly, x0=0.055, x1=0.463, y0=0.338, y1=0.984,
                   line=dict(width=1, color="#cccccc"), fillcolor="white", layer="above"))
leg_y = [0.92, 0.795, 0.671, 0.547, 0.423]
for name, color, yy in zip(SERIES, COLORS, leg_y):
    annotations.append(dict(
        text=name, x=0.085, y=yy, xref=lx, yref=ly, xanchor="left", yanchor="middle",
        showarrow=False, font=dict(family=FONT, size=12.5, color=color),
    ))

layout["annotations"] = annotations
layout["shapes"] = shapes
fig.update_layout(**layout)
fig.write_html("out.html")
